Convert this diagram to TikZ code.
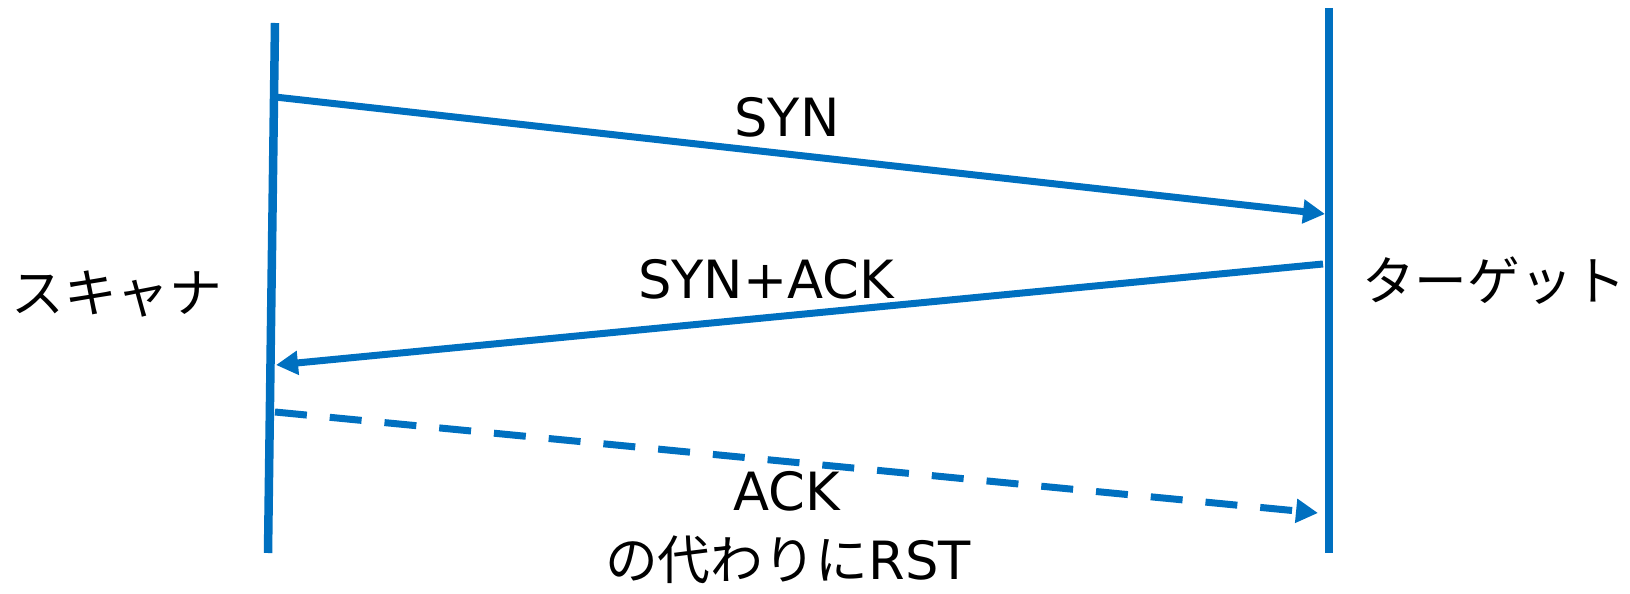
\documentclass[tikz,border=0pt]{standalone}
\usepackage{fontspec}
\setmainfont{DejaVu Sans}
\newfontfamily\jp{Noto Sans CJK JP}
\usepackage{tikz}
\usetikzlibrary{arrows.meta, positioning}
\definecolor{msgblue}{RGB}{0,112,192}

\begin{document}
\begin{tikzpicture}[
    x=0.02cm, y=-0.02cm,
    lifeline/.style={msgblue, line width=0.17cm},
    msg/.style={msgblue, line width=0.14cm, -{Triangle[length=0.44cm, width=0.46cm]}},
    msgdash/.style={msg, dash pattern=on 0.64cm off 0.46cm},
    lbl/.style={font=\fontsize{30}{34}\selectfont, inner sep=0pt}
]
\useasboundingbox (0,0) rectangle (1630,594);

% Lifelines
\coordinate (scantop) at (275,23);
\coordinate (scanbot) at (268,553);
\coordinate (targtop) at (1329,8);
\coordinate (targbot) at (1329,553);
\draw[lifeline] (scantop) -- (scanbot);
\draw[lifeline] (targtop) -- (targbot);

% Message ends
\coordinate (synA) at (275,97);
\coordinate (synB) at (1325,214);
\coordinate (ackA) at (1323,264);
\coordinate (ackB) at (276,365);
\coordinate (rstA) at (275,412);
\coordinate (rstB) at (1318,513);

% Messages
\draw[msg] (synA) -- (synB);
\draw[msg] (ackA) -- (ackB);
\draw[msgdash] (rstA) -- (rstB);

% Labels
\node[lbl] (scanner) at (117,294) {\jp スキャナ};
\node[lbl] (target) at (1494,281) {\jp ターゲット};
\node[lbl] (syn) at (787,117) {SYN};
\node[lbl] (synack) at (766,279) {SYN+ACK};
\node[lbl] (ack) at (787,491) {ACK};
\node[lbl] (rst) at (788,560) {{\jp の代わりに}RST};

\end{tikzpicture}
\end{document}
